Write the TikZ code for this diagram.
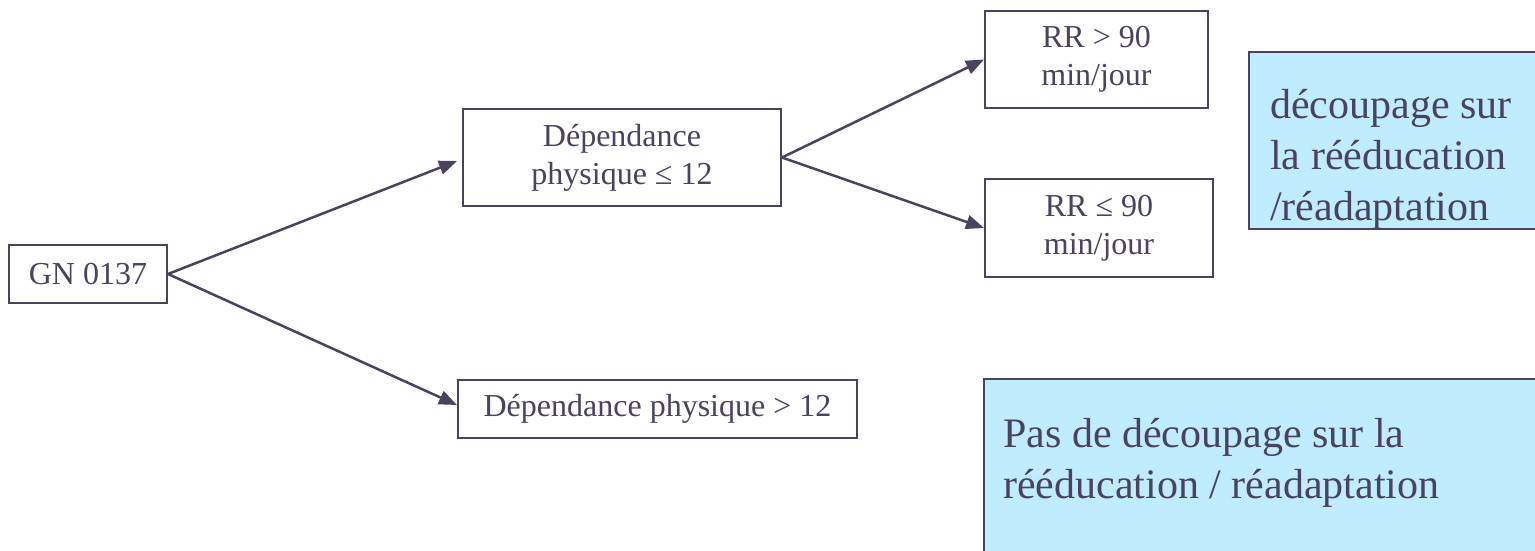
\documentclass[tikz,border=0pt]{standalone}
\usepackage{fontspec}
\setmainfont{Liberation Serif}
\usetikzlibrary{arrows.meta,calc}
\definecolor{ink}{RGB}{75,66,96}
\definecolor{skyfill}{RGB}{192,236,255}
\tikzset{
  box/.style={draw=ink, line width=2pt, fill=white, rectangle, inner sep=0pt,
    align=center, text=ink, font=\fontsize{32}{38}\selectfont},
  bluebox/.style={draw=ink, line width=2.2pt, fill=skyfill, rectangle, inner sep=0pt},
  bluetext/.style={text=ink, inner sep=0pt, align=left, font=\fontsize{42}{51}\selectfont},
  conn/.style={draw=ink, line width=2.5pt, -{Triangle[length=18pt,width=14pt]}}
}
\begin{document}
\begin{tikzpicture}[x=1pt,y=-1pt]
\clip (0,0) rectangle (1535,550);
\fill[white] (0,0) rectangle (1535,550);

\node[box, minimum width=158pt, minimum height=58pt] (gn) at (88,274) {GN 0137};
\node[box, minimum width=318pt, minimum height=97pt] (d1) at (622,157.5) {Dépendance\\physique ≤ 12};
\node[box, minimum width=399pt, minimum height=58pt] (d2) at (657.5,409) {Dépendance physique > 12};
\node[box, minimum width=223pt, minimum height=97pt] (r1) at (1096.5,59.5) {RR > 90\\min/jour};
\node[box, minimum width=228pt, minimum height=98pt] (r2) at (1099,228) {RR ≤ 90\\min/jour};

\node[bluebox, anchor=north west, minimum width=320pt, minimum height=177pt] (b1) at (1248,51) {};
\node[bluetext, anchor=north west] (t1) at ($(b1.north west)+(22,38)$) {découpage sur\\la rééducation\\/réadaptation};

\node[bluebox, anchor=north west, minimum width=600pt, minimum height=200pt] (b2) at (983,378) {};
\node[bluetext, anchor=north west] (t2) at ($(b2.north west)+(20,40)$) {Pas de découpage sur la\\rééducation / réadaptation};

\coordinate (d1in) at ($(d1.west)+(-5,3.5)$);
\coordinate (d2in) at ($(d2.west)+(0,-4)$);
\draw[conn] (gn.east) -- (d1in);
\draw[conn] (gn.east) -- (d2in);
\draw[conn] (d1.east) -- (r1.west);
\draw[conn] (d1.east) -- (r2.west);
\end{tikzpicture}
\end{document}
